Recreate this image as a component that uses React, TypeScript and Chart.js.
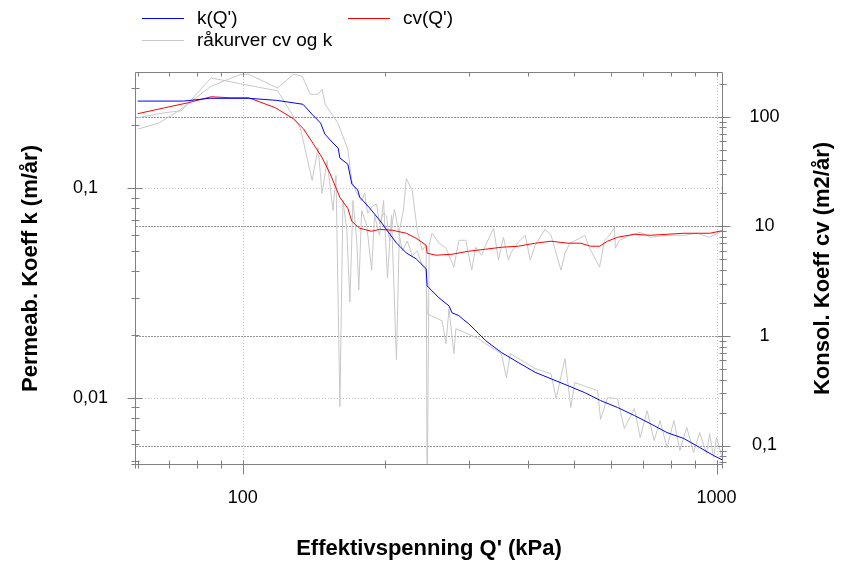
import React, { useEffect, useRef } from 'react';
import { Chart, registerables } from 'chart.js';

Chart.register(...registerables);

// ---- data ----
const kQ = [60, 75, 85, 103, 118, 134, 140, 146, 149, 155, 159, 160.3, 166.6, 169.9, 174.8, 176.5, 185.2, 189.7, 197.2, 202, 211, 221.4, 232.3, 243.8, 245, 250.9, 259.6, 272.4, 276.4, 285.8, 292, 299.9, 314.7, 325.5, 351.6, 381.5, 414.2, 447.3, 485.6, 527, 569, 618, 671, 724, 786, 853, 921, 986, 1027];
const kValues = [0.260, 0.260, 0.268, 0.268, 0.262, 0.251, 0.225, 0.204, 0.181, 0.164, 0.155, 0.139, 0.130, 0.1045, 0.0978, 0.0906, 0.0803, 0.0752, 0.0674, 0.0624, 0.0547, 0.0490, 0.0459, 0.0412, 0.0341, 0.0323, 0.0299, 0.0274, 0.0254, 0.0246, 0.0236, 0.0225, 0.0202, 0.0187, 0.0164, 0.0147, 0.0132, 0.0123, 0.0114, 0.01056, 0.00968, 0.00897, 0.00821, 0.00752, 0.00681, 0.00638, 0.00578, 0.00529, 0.00505];

const cvQ = [60, 68.4, 76.7, 85.7, 94.4, 102.9, 117.2, 127.8, 134.2, 140.8, 147, 152.8, 160.3, 166.6, 169.9, 176.5, 187.1, 194.4, 207, 221.4, 232.3, 243.8, 245, 255.8, 276.4, 299.9, 325.5, 351.6, 381.5, 414.2, 447.3, 485.6, 516.9, 542.3, 566.4, 588.7, 617.8, 670.7, 724.1, 786.1, 853.1, 921.3, 967, 1027];
const cvValues = [106.5, 120.7, 134.1, 152, 148.8, 148.8, 120.7, 95.9, 77.8, 56.8, 42.4, 30.3, 18.35, 14.57, 11.1, 9.59, 9.01, 9.39, 9.2, 8.64, 7.78, 6.72, 5.68, 5.45, 5.56, 5.93, 6.18, 6.44, 6.58, 7.01, 7.31, 7.01, 7.01, 6.58, 6.58, 7.31, 7.94, 8.46, 8.28, 8.46, 8.64, 8.64, 8.64, 9.1];

const rawKQ = [60, 66.4, 73.1, 85.7, 99, 102.9, 118.4, 127.8, 133.5, 138.8, 144.2, 147, 149.2, 158.8, 166.6, 169.9, 174, 178.2, 180.8, 183.4, 187.9, 191.6, 194.4, 198.2, 201.1, 204, 209, 214.1, 217.2, 222.5, 227.9, 233.5, 239.1, 243.8, 245, 263.4, 268.5, 272.4, 279, 281.7, 314.7, 325.5, 351.6, 360.1, 367.1, 414.2, 447.3, 458.4, 478.7, 492.6, 502, 561, 569.1, 588.7, 617.8, 638.9, 670.7, 690.1, 713.8, 738.3, 759.9, 786.1, 812.9, 836.8, 865.4, 895, 921.3, 953, 967, 985.6, 1000, 1027];
const rawKValues = [0.191, 0.204, 0.233, 0.306, 0.349, 0.349, 0.300, 0.349, 0.342, 0.280, 0.280, 0.296, 0.251, 0.204, 0.153, 0.108, 0.0947, 0.0867, 0.0947, 0.0760, 0.0821, 0.0839, 0.0674, 0.0760, 0.0736, 0.0559, 0.0794, 0.0591, 0.0501, 0.0559, 0.0475, 0.0501, 0.0425, 0.0402, 0.0251, 0.02327, 0.01807, 0.02653, 0.01620, 0.02131, 0.0191, 0.01807, 0.01620, 0.01245, 0.01620, 0.01374, 0.01301, 0.00989, 0.01533, 0.00897, 0.01179, 0.01080, 0.00786, 0.0100, 0.00989, 0.00712, 0.00887, 0.00645, 0.00867, 0.00624, 0.00777, 0.00578, 0.00777, 0.00559, 0.00720, 0.00547, 0.00681, 0.00541, 0.00674, 0.00518, 0.00645, 0.0052];

const rawCvQ = [60, 68.4, 74.2, 85.7, 99, 118.4, 132.2, 140.1, 144.2, 147, 150.6, 155, 157.3, 160.3, 162.7, 165.8, 168.3, 170.8, 174, 175.7, 178.2, 182.6, 187.1, 189.7, 194.4, 198.2, 202, 206, 211, 214.1, 218.3, 221.4, 227.9, 233.5, 239.1, 243.8, 245, 247.4, 250.9, 259.6, 268.5, 279, 285.8, 295.6, 304.2, 310.1, 319.2, 325.5, 338.3, 346.5, 354.9, 363.6, 368.8, 381.5, 394.7, 404.4, 414.2, 434.6, 447.3, 469.5, 478.7, 490.2, 514.4, 527, 539.7, 566.4, 580.1, 594.3, 608.8, 611.7, 623.7, 657.7, 690.1, 724.1, 786.1, 853.1, 908.3, 967, 1027];
const rawCvValues = [97.9, 108.7, 113.4, 226.2, 199.5, 172.3, 79.4, 26.2, 52.3, 19.95, 39.8, 13.98, 29.1, 0.226, 17.2, 9.2, 2.04, 17.2, 7.46, 2.62, 13.98, 10.2, 3.98, 12.6, 8.28, 17.2, 3.37, 12.6, 0.605, 9.2, 13.98, 27.3, 21.2, 9.2, 6.05, 6.72, 0.03, 6.72, 8.64, 7.01, 6.31, 4.24, 7.46, 7.46, 3.98, 6.44, 5.45, 6.72, 9.59, 4.91, 7.94, 4.91, 5.8, 7.16, 8.28, 4.91, 6.72, 9.39, 8.28, 3.98, 5.68, 7.01, 7.78, 8.28, 6.31, 4.24, 7.46, 8.28, 9.79, 6.31, 7.46, 8.28, 8.82, 7.94, 8.28, 8.28, 8.64, 7.94, 9.01];

// ---- axes ----
const xTickValues = [60, 70, 80, 90, 100, 200, 300, 400, 500, 600, 700, 800, 900, 1000];
const xMajorValues = [100, 1000];
const xMajorLabels = ['100', '1000'];

const kTickValues = [0.005, 0.006, 0.007, 0.008, 0.009, 0.01, 0.02, 0.03, 0.04, 0.05, 0.06, 0.07, 0.08, 0.09, 0.1, 0.2, 0.3];
const kMajorValues = [0.01, 0.1];
const kMajorLabels = ['0,01', '0,1'];

const cvTickValues = [0.07, 0.08, 0.09, 0.1, 0.2, 0.3, 0.4, 0.5, 0.6, 0.7, 0.8, 0.9, 1, 2, 3, 4, 5, 6, 7, 8, 9, 10, 20, 30, 40, 50, 60, 70, 80, 90, 100, 200];
const cvMajorValues = [0.1, 1, 10, 100];
const cvMajorLabels = ['0,1', '1', '10', '100'];

const xRange = [59.5, 1027];
const kRange = [0.00482, 0.354];
const cvRange = [0.0678, 250.5];

const xTitle = "Effektivspenning Q' (kPa)";
const kTitle = 'Permeab. Koeff k (m/år)';
const cvTitle = 'Konsol. Koeff cv (m2/år)';
const legendLabels = ["k(Q')", "cv(Q')", 'råkurver cv og k'];

const FONT = "'Liberation Sans', Arial, Helvetica, sans-serif";
const BLUE = '#0000ff';
const RED = '#ff0000';
const GRAY = '#c8c8c8';
const AXIS = '#808080';

const zip = (xs: number[], ys: number[]) => xs.map((x, i) => ({ x, y: ys[i] }));

const findLabel = (v: number, majors: number[], labels: string[]) => {
  for (let i = 0; i < majors.length; i++) {
    if (Math.abs(v - majors[i]) / majors[i] < 1e-6) return labels[i];
  }
  return '';
};
const isMajor = (v: number, majors: number[]) => majors.some((m) => Math.abs(v - m) / m < 1e-6);

const decorPlugin = {
  id: 'decor',
  beforeDatasetsDraw(chart: any) {
    const { ctx, chartArea: a, scales } = chart;
    ctx.save();
    ctx.lineWidth = 1;
    ctx.strokeStyle = '#c4c4c4';
    ctx.setLineDash([1, 2]);
    for (const v of xMajorValues) {
      const x = Math.round(scales.x.getPixelForValue(v)) + 0.5;
      ctx.beginPath(); ctx.moveTo(x, a.top); ctx.lineTo(x, a.bottom); ctx.stroke();
    }
    for (const v of kMajorValues) {
      const y = Math.round(scales.yk.getPixelForValue(v)) + 0.5;
      ctx.beginPath(); ctx.moveTo(a.left, y); ctx.lineTo(a.right, y); ctx.stroke();
    }
    ctx.strokeStyle = '#959595';
    ctx.setLineDash([2, 1]);
    for (const v of cvMajorValues) {
      const y = Math.round(scales.ycv.getPixelForValue(v)) + 0.5;
      ctx.beginPath(); ctx.moveTo(a.left, y); ctx.lineTo(a.right, y); ctx.stroke();
    }
    ctx.restore();
  },
  afterDraw(chart: any) {
    const { ctx, chartArea: a, scales } = chart;
    ctx.save();
    ctx.lineWidth = 1;
    ctx.strokeStyle = AXIS;
    ctx.setLineDash([]);
    const L = a.left - 0.5, R = a.right + 0.5, T = a.top - 0.5, B = a.bottom + 0.5;
    ctx.beginPath();
    ctx.moveTo(L, T); ctx.lineTo(R, T);
    ctx.moveTo(L, T); ctx.lineTo(L, B + 4);
    ctx.moveTo(L - 4, B); ctx.lineTo(R, B);
    ctx.moveTo(R, T); ctx.lineTo(R, B + 4);
    ctx.stroke();
    ctx.beginPath();
    for (const v of xTickValues) {
      const x = Math.round(scales.x.getPixelForValue(v)) + 0.5;
      const maj = isMajor(v, xMajorValues);
      ctx.moveTo(x, B - 4); ctx.lineTo(x, B + (maj ? 10 : 4));
      ctx.moveTo(x, T); ctx.lineTo(x, T + 4);
    }
    for (const v of kTickValues) {
      const y = Math.round(scales.yk.getPixelForValue(v)) + 0.5;
      const maj = isMajor(v, kMajorValues);
      ctx.moveTo(L - (maj ? 8 : 4), y); ctx.lineTo(L + (maj ? 7 : 4), y);
    }
    for (const v of cvTickValues) {
      const y = Math.round(scales.ycv.getPixelForValue(v)) + 0.5;
      const maj = isMajor(v, cvMajorValues);
      ctx.moveTo(R - (maj ? 5 : 3), y); ctx.lineTo(R + (maj ? 8 : 4), y);
    }
    ctx.stroke();

    ctx.fillStyle = '#000';
    ctx.font = `bold 22px ${FONT}`;
    ctx.textAlign = 'center';
    ctx.textBaseline = 'middle';
    ctx.fillText(xTitle, (a.left + a.right) / 2, 549);
    ctx.save();
    ctx.translate(31, (a.top + a.bottom) / 2);
    ctx.rotate(-Math.PI / 2);
    ctx.fillText(kTitle, 0, 0);
    ctx.restore();
    ctx.save();
    ctx.translate(823, (a.top + a.bottom) / 2);
    ctx.rotate(-Math.PI / 2);
    ctx.fillText(cvTitle, 0, 0);
    ctx.restore();

    ctx.font = `19px ${FONT}`;
    ctx.textAlign = 'left';
    const items = [
      { color: BLUE, x: 142, y: 18, label: legendLabels[0] },
      { color: RED, x: 348, y: 18, label: legendLabels[1] },
      { color: GRAY, x: 142, y: 40, label: legendLabels[2] },
    ];
    for (const it of items) {
      ctx.strokeStyle = it.color;
      ctx.beginPath();
      ctx.moveTo(it.x, it.y + 0.5); ctx.lineTo(it.x + 42, it.y + 0.5);
      ctx.stroke();
      ctx.fillText(it.label, it.x + 55, it.y + 1);
    }
    ctx.restore();
  },
};

export default function App() {
  const ref = useRef<HTMLCanvasElement>(null);
  useEffect(() => {
    if (!ref.current) return;
    const lineDs = (label: string, data: any, axis: string, color: string, order: number) => ({
      label, data, yAxisID: axis, borderColor: color, backgroundColor: color,
      borderWidth: 1, pointRadius: 0, tension: 0, fill: false, order,
    });
    const chart = new Chart(ref.current, {
      type: 'line',
      data: {
        datasets: [
          lineDs(legendLabels[0], zip(kQ, kValues), 'yk', BLUE, 0),
          lineDs(legendLabels[1], zip(cvQ, cvValues), 'ycv', RED, 1),
          lineDs(legendLabels[2], zip(rawKQ, rawKValues), 'yk', GRAY, 2),
          lineDs(legendLabels[2], zip(rawCvQ, rawCvValues), 'ycv', GRAY, 3),
        ] as any,
      },
      options: {
        responsive: false,
        animation: false,
        devicePixelRatio: 1,
        events: [],
        layout: { padding: { left: 73, top: 73, right: 0, bottom: 0 } },
        plugins: { legend: { display: false }, tooltip: { enabled: false } },
        scales: {
          x: {
            type: 'logarithmic',
            position: 'bottom',
            min: xRange[0], max: xRange[1],
            grid: { display: false, drawTicks: false },
            border: { display: false },
            afterBuildTicks: (s: any) => { s.ticks = xTickValues.map((v) => ({ value: v })); },
            afterFit: (s: any) => { s.height = 100; },
            ticks: {
              autoSkip: false, maxRotation: 0, minRotation: 0, padding: 23,
              color: '#000', font: { size: 18, family: FONT },
              callback: (v: any) => findLabel(Number(v), xMajorValues, xMajorLabels),
            },
          },
          yk: {
            type: 'logarithmic',
            position: 'left',
            min: kRange[0], max: kRange[1],
            grid: { display: false, drawTicks: false },
            border: { display: false },
            afterBuildTicks: (s: any) => { s.ticks = kTickValues.map((v) => ({ value: v })); },
            afterFit: (s: any) => { s.width = 63; },
            ticks: {
              autoSkip: false, crossAlign: 'far', padding: 0,
              color: '#000', font: { size: 18, family: FONT },
              callback: (v: any) => findLabel(Number(v), kMajorValues, kMajorLabels),
            },
          },
          ycv: {
            type: 'logarithmic',
            position: 'right',
            min: cvRange[0], max: cvRange[1],
            grid: { display: false, drawTicks: false },
            border: { display: false },
            afterBuildTicks: (s: any) => { s.ticks = cvTickValues.map((v) => ({ value: v })); },
            afterFit: (s: any) => { s.width = 125; },
            ticks: {
              autoSkip: false, crossAlign: 'center', padding: 27.5,
              color: '#000', font: { size: 18, family: FONT },
              callback: (v: any) => findLabel(Number(v), cvMajorValues, cvMajorLabels),
            },
          },
        },
      } as any,
      plugins: [decorPlugin],
    });
    return () => chart.destroy();
  }, []);
  return (
    <div style={{ position: 'absolute', left: 0, top: 0, width: 847, height: 564, background: '#fff' }}>
      <canvas ref={ref} width={847} height={564} style={{ display: 'block' }} />
    </div>
  );
}
